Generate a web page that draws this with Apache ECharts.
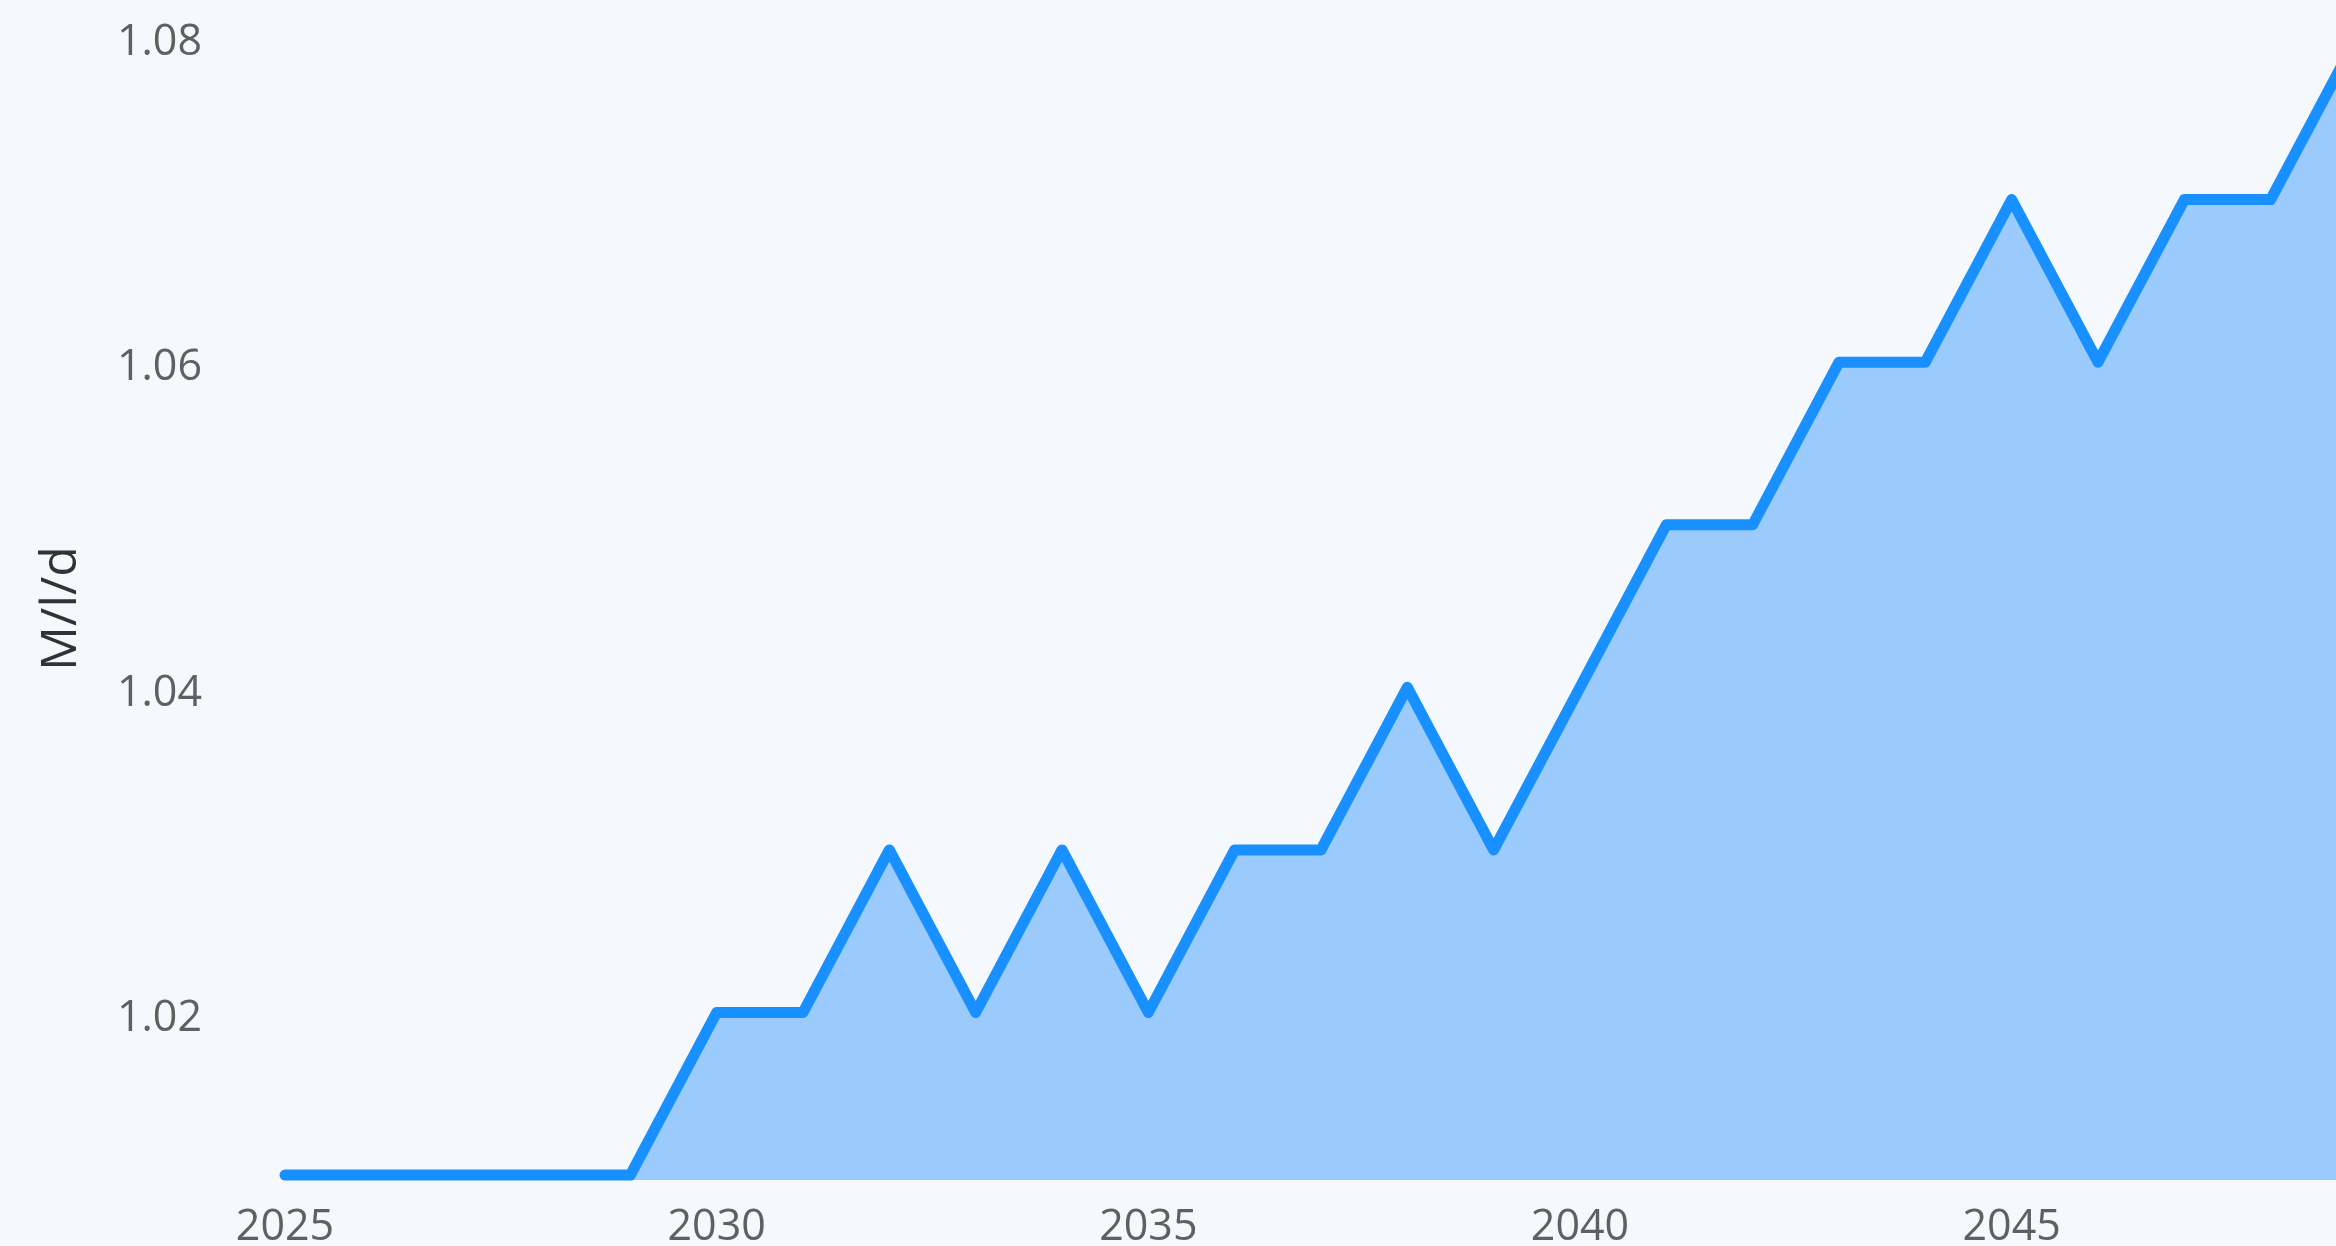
<!DOCTYPE html>
<html>
<head>
<meta charset="utf-8">
<style>
  html, body { margin: 0; padding: 0; background: #f5f8fc; }
  #chart { width: 2336px; height: 1246px; }
</style>
<script src="https://cdn.jsdelivr.net/npm/echarts@6/dist/echarts.min.js"></script>
</head>
<body>
<div id="chart"></div>
<script>
const years = ['2025','2026','2027','2028','2029','2030','2031','2032','2033','2034',
               '2035','2036','2037','2038','2039','2040','2041','2042','2043','2044',
               '2045','2046','2047','2048','2049'];
const values = [1.01,1.01,1.01,1.01,1.01,1.02,1.02,1.03,1.02,1.03,
                1.02,1.03,1.03,1.04,1.03,1.04,1.05,1.05,1.06,1.06,
                1.07,1.06,1.07,1.07,1.08];
const yAxisName = 'M/l/d';

const chart = echarts.init(document.getElementById('chart'));
chart.setOption({
  backgroundColor: '#f5f8fc',
  animation: false,
  grid: { left: 285, right: -21, top: 37, bottom: 66, containLabel: false, outerBoundsMode: 'none' },
  xAxis: {
    type: 'category',
    data: years,
    boundaryGap: false,
    axisLine: { show: false },
    axisTick: { show: false },
    splitLine: { show: false },
    axisLabel: {
      interval: 4,
      margin: 26,
      color: '#606060',
      fontFamily: 'Open Sans',
      fontSize: 43
    }
  },
  yAxis: {
    type: 'value',
    min: 1.0097,
    max: 1.08,
    splitNumber: 4,
    name: yAxisName,
    nameLocation: 'middle',
    nameRotate: 90,
    nameGap: 198,
    nameTextStyle: { color: '#333333', fontFamily: 'Open Sans', fontSize: 50 },
    axisLine: { show: false },
    axisTick: { show: false },
    splitLine: { show: false },
    axisLabel: {
      showMinLabel: false,
      margin: 83,
      verticalAlign: 'top',
      lineHeight: 12,
      color: '#606060',
      fontFamily: 'Open Sans',
      fontSize: 43,
      formatter: function (v) {
        const k = Math.round(v / 0.02);
        if (Math.abs(v - k * 0.02) > 1e-6) return '';
        return v.toFixed(2);
      }
    }
  },
  series: [{
    type: 'line',
    data: values,
    symbol: 'none',
    lineStyle: { color: '#1890ff', width: 11, cap: 'round', join: 'round' },
    areaStyle: { color: '#9acbfc', opacity: 1 },
    clip: false
  }]
});
</script>
</body>
</html>
